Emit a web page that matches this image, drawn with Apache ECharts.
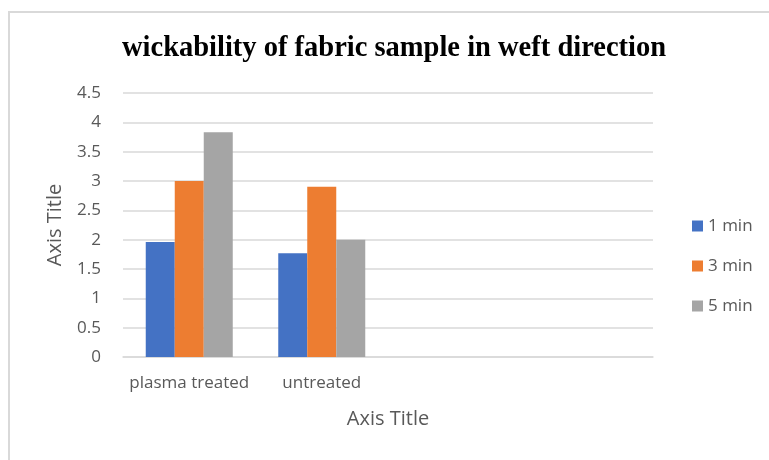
<!DOCTYPE html>
<html>
<head>
<meta charset="utf-8">
<script src="https://cdn.jsdelivr.net/npm/echarts@6/dist/echarts.min.js"></script>
<style>
  html, body { margin: 0; padding: 0; background: #fff; }
  #chart { width: 769px; height: 460px; }
</style>
</head>
<body>
<div id="chart"></div>
<script>
// Sample categories (two extra empty slots keep the plot width of the original sheet)
const categories = ['plasma treated', 'untreated', '', ''];
const seriesNames = ['1 min', '3 min', '5 min'];
const oneMin = [1.96, 1.77];
const threeMin = [3.0, 2.9];
const fiveMin = [3.83, 2.0];
const yTicks = { min: 0, max: 4.5, step: 0.5 };

const colors = ['#4472C4', '#ED7D31', '#A5A5A5'];
const textGray = '#595959';
const gridGray = '#D9D9D9';
const font = 'Open Sans';

const chart = echarts.init(document.getElementById('chart'), null, { renderer: 'canvas' });

const values = [oneMin, threeMin, fiveMin];

chart.setOption({
  animation: false,
  backgroundColor: '#fff',
  color: colors,
  title: {
    text: 'wickability of fabric sample in weft direction',
    left: 122,
    top: 34,
    padding: 0,
    textStyle: {
      fontFamily: 'Liberation Serif',
      fontWeight: 'bold',
      fontSize: 28.5,
      color: '#000'
    }
  },
  legend: {
    orient: 'vertical',
    left: 692,
    top: 215,
    padding: 0,
    itemGap: 18,
    itemWidth: 11,
    itemHeight: 11,
    icon: 'rect',
    data: seriesNames,
    textStyle: { fontFamily: font, fontSize: 17, color: textGray, lineHeight: 22 }
  },
  grid: { left: 123, right: 116, top: 93, bottom: 103, containLabel: false },
  xAxis: {
    type: 'category',
    data: categories,
    name: 'Axis Title',
    nameLocation: 'middle',
    nameGap: 52,
    nameTextStyle: { fontFamily: font, fontSize: 20, color: textGray },
    axisLine: { show: true, lineStyle: { color: gridGray, width: 1.5 } },
    axisTick: { show: false },
    axisLabel: { fontFamily: font, fontSize: 17, color: textGray, margin: 18, interval: 0 }
  },
  yAxis: {
    type: 'value',
    min: yTicks.min,
    max: yTicks.max,
    interval: yTicks.step,
    name: 'Axis Title',
    nameLocation: 'middle',
    nameGap: 58,
    nameRotate: 90,
    nameTextStyle: { fontFamily: font, fontSize: 20, color: textGray },
    axisLine: { show: false },
    axisTick: { show: false },
    axisLabel: { fontFamily: font, fontSize: 17, color: textGray, margin: 22 },
    splitLine: { lineStyle: { color: gridGray, width: 1.5 } }
  },
  series: seriesNames.map((name, i) => ({
    name,
    type: 'bar',
    data: values[i],
    barWidth: 29,
    barGap: '0%'
  })),
  graphic: [
    {
      type: 'polyline',
      shape: { points: [[9, 460], [9, 12], [769, 12]] },
      style: { stroke: gridGray, lineWidth: 2, fill: null }
    }
  ]
});
</script>
</body>
</html>
